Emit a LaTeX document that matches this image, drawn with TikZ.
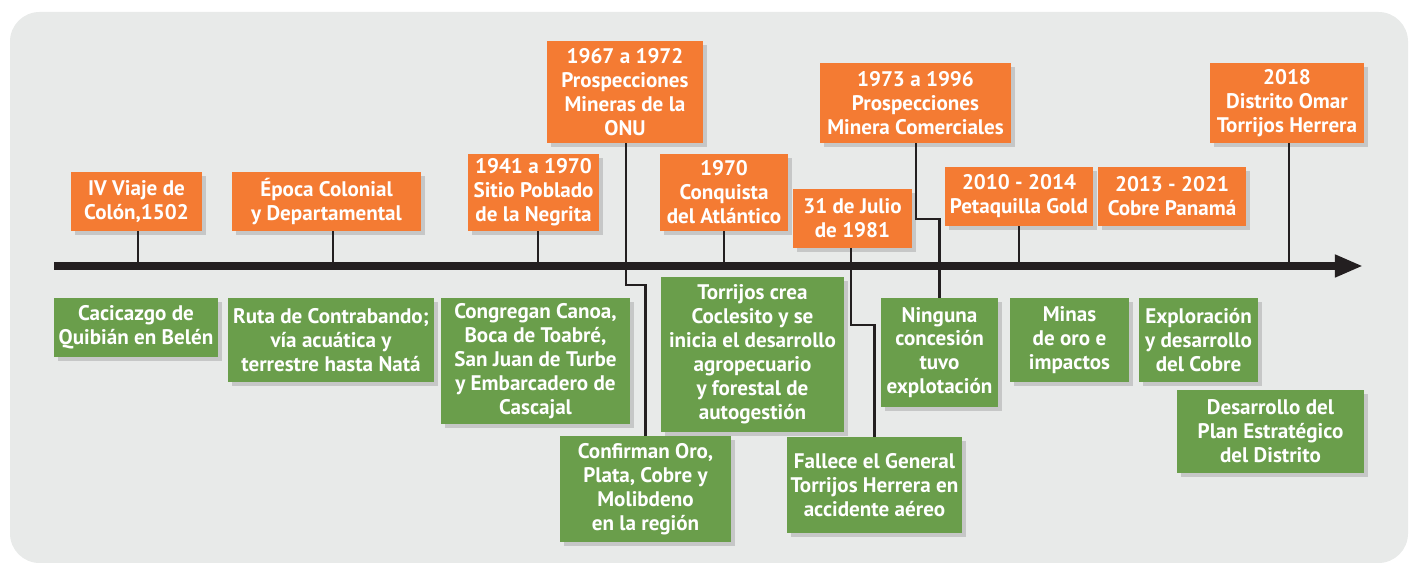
\documentclass[tikz,border=0pt]{standalone}
\usepackage{fontspec}
\setmainfont{PT Sans}
\usetikzlibrary{arrows.meta,shadows}
\definecolor{naranja}{HTML}{F47B33}
\definecolor{verde}{HTML}{6A9E4B}
\definecolor{fondo}{HTML}{E8EAE9}
\definecolor{sombra}{HTML}{C6C7C7}
\definecolor{linea}{HTML}{231F20}
\tikzset{
  sz/.style 2 args={minimum width=#1*0.025cm, minimum height=#2*0.025cm},
  caja/.style={inner sep=0pt, align=center, text=white,
    font=\fontsize{15}{17}\selectfont\bfseries,
    drop shadow={shadow xshift=2.85pt, shadow yshift=-2.85pt, fill=sombra, opacity=1}},
  naranjabox/.style={caja, fill=naranja},
  verdebox/.style={caja, fill=verde},
  enlace/.style={line width=2pt, color=linea},
}

\begin{document}
\begin{tikzpicture}[x=0.025cm, y=-0.025cm]
			%%%%% START %%%%%
			\useasboundingbox (0, 0) rectangle (1414, 563);
			\fill[fondo, rounded corners=21pt] (10, 12) rectangle (1408, 563);

			% eje del tiempo
			\coordinate (ejeA) at (54, 266);
			\coordinate (ejeB) at (1363, 266);
			\draw[line width=5.5pt, color=linea, -{Triangle[length=20pt, width=15pt]}] (ejeA) -- (ejeB);

			% hitos de arriba
			\node[naranjabox, sz={131}{59}] (o1) at (136.5, 201.5) {IV Viaje de\\Colón,1502};
			\node[naranjabox, sz={189}{59}] (o2) at (326.5, 201.5) {Época Colonial\\y Departamental};
			\node[naranjabox, sz={131}{77}] (o3) at (533.5, 192.5) {1941 a 1970\\Sitio Poblado\\de la Negrita};
			\node[naranjabox, sz={156}{102}] (o4) at (625, 92) {1967 a 1972\\Prospecciones\\Mineras de la\\ONU};
			\node[naranjabox, sz={128}{77}] (o5) at (724, 192.5) {1970\\Conquista\\del Atlántico};
			\node[naranjabox, sz={119}{59}] (o6) at (852.5, 218.5) {31 de Julio\\de 1981};
			\node[naranjabox, sz={191}{80}] (o7) at (915.5, 103) {1973 a 1996\\Prospecciones\\Minera Comerciales};
			\node[naranjabox, sz={148}{59}] (o8) at (1019, 196.5) {2010 - 2014\\Petaquilla Gold};
			\node[naranjabox, sz={148}{59}] (o9) at (1172, 196.5) {2013 - 2021\\Cobre Panamá};
			\node[naranjabox, sz={154}{80}] (o10) at (1287, 103) {2018\\Distrito Omar\\Torrijos Herrera};

			% hechos de abajo
			\node[verdebox, sz={164}{59}] (g1) at (136, 327.5) {Cacicazgo de\\Quibián en Belén};
			\node[verdebox, sz={206}{84}] (g2) at (331, 340) {Ruta de Contrabando;\\vía acuática y\\terrestre hasta Natá};
			\node[verdebox, sz={189}{126}] (g3) at (535.5, 361) {Congregan Canoa,\\Boca de Toabré,\\San Juan de Turbe\\y Embarcadero de\\Cascajal};
			\node[verdebox, sz={183}{155}] (g4) at (752.5, 354.5) {Torrijos crea\\Coclesito y se\\inicia el desarrollo\\agropecuario\\y forestal de\\autogestión};
			\node[verdebox, sz={171}{106}] (g5) at (645.5, 489) {Confirman Oro,\\Plata, Cobre y\\Molibdeno\\en la región};
			\node[verdebox, sz={175}{96}] (g6) at (874.5, 485) {Fallece el General\\Torrijos Herrera en\\accidente aéreo};
			\node[verdebox, sz={117}{109}] (g7) at (939.5, 352.5) {Ninguna\\concesión\\tuvo\\explotación};
			\node[verdebox, sz={119}{84}] (g8) at (1069.5, 340) {Minas\\de oro e\\impactos};
			\node[verdebox, sz={119}{84}] (g9) at (1198.5, 340) {Exploración\\y desarrollo\\del Cobre};
			\node[verdebox, sz={187}{83}] (g10) at (1270.5, 431.5) {Desarrollo del\\Plan Estratégico\\del Distrito};

			% enlaces al eje
			\draw[enlace] ([xshift=1pt]o1.south) -- ([xshift=1pt]o1.south |- ejeA);
			\draw[enlace] ([xshift=4.6pt]o2.south) -- ([xshift=4.6pt]o2.south |- ejeA);
			\draw[enlace] ([xshift=3.2pt]o3.south) -- ([xshift=3.2pt]o3.south |- ejeA);
			\draw[enlace] (o5.south) -- (o5.south |- ejeA);
			\draw[enlace] (o8.south) -- (o8.south |- ejeA);
			\draw[enlace] ([xshift=1.4pt]o10.south) -- ([xshift=1.4pt]o10.south |- ejeA);

			% enlaces quebrados
			\coordinate (k4) at (626, 285);
			\coordinate (k6) at (851, 325);
			\coordinate (k7) at (916, 219);
			\draw[enlace] (k4 |- o4.south) -- (k4) -| (g5.north);
			\draw[enlace] (k6 |- o6.south) -- (k6) -| (g6.north);
			\draw[enlace] (k7 |- o7.south) -- (k7) -| (g7.north);
			%%%%% END %%%%%
\end{tikzpicture}
\end{document}
